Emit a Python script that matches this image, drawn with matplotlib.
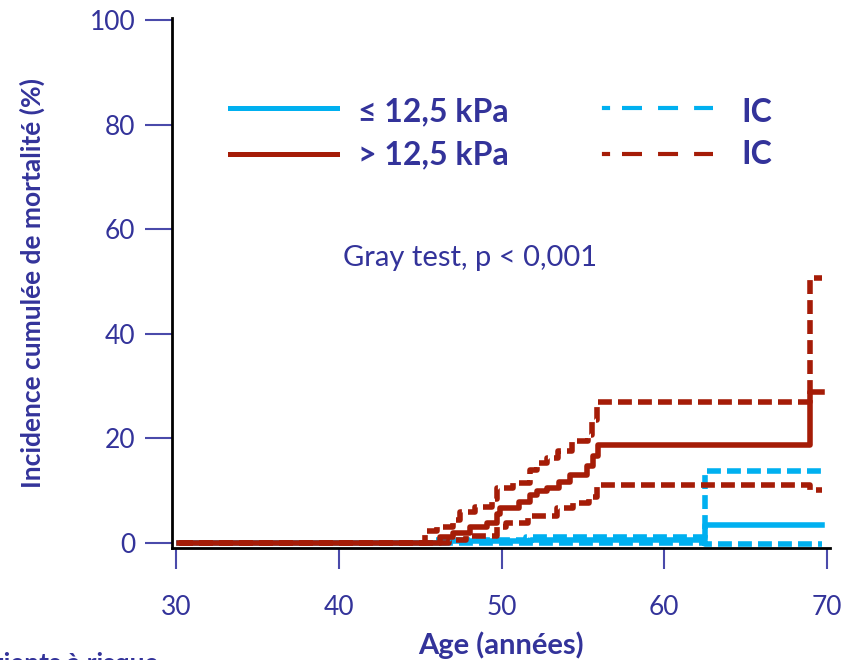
import matplotlib
matplotlib.use("Agg")
import matplotlib.pyplot as plt
from matplotlib.lines import Line2D

plt.rcParams['font.family'] = ['Lato', 'DejaVu Sans']

# ---- data ----
red_t = [30.2, 46.2, 47.0, 48.06, 49.1, 49.7, 49.9, 51.1, 51.75, 52.2, 52.8, 53.5, 54.2, 55.25, 55.6, 55.9, 68.96, 69.67]
red_v = [0.0, 1.1, 1.9, 3.1, 3.8, 5.5, 6.7, 7.9, 9.2, 10.0, 10.5, 11.7, 13.0, 14.7, 16.6, 18.7, 28.9, 28.9]

red_up_t = [30.2, 45.3, 46.04, 47.0, 47.45, 48.37, 49.4, 49.72, 50.7, 51.75, 52.18, 52.8, 53.47, 54.33, 55.3, 55.56, 55.87, 68.96, 69.67]
red_up_v = [0.0, 2.3, 3.0, 4.4, 6.0, 6.9, 8.5, 10.5, 11.5, 14.0, 15.3, 16.2, 17.6, 19.5, 20.6, 23.5, 27.0, 50.6, 50.6]

red_lo_t = [30.2, 46.8, 47.8, 49.7, 50.3, 51.6, 53.4, 54.4, 55.4, 55.85, 56.1, 68.96, 69.67]
red_lo_v = [0.0, 0.5, 1.3, 3.0, 3.8, 5.1, 6.7, 7.6, 8.8, 10.7, 11.1, 10.2, 10.2]

blue_t = [30.2, 46.5, 51.8, 62.5, 69.67]
blue_v = [0.0, 0.3, 0.6, 3.4, 3.4]

blue_up_t = [30.2, 46.0, 51.5, 62.5, 69.67]
blue_up_v = [0.0, 0.5, 1.1, 13.8, 13.8]

blue_lo_t = [30.2, 62.5, 69.67]
blue_lo_v = [0.0, -0.2, -0.2]

x_ticks = [30, 40, 50, 60, 70]
y_ticks = [0, 20, 40, 60, 80, 100]

RED = '#A51C07'
BLUE = '#00B0F0'
TXT = '#33339A'
TICK = '#4A4AAA'

W, H = 843, 660
fig = plt.figure(figsize=(W / 100, H / 100), dpi=100)
ax = fig.add_axes([172 / W, 1 - 548 / H, 658 / W, 530 / H])

lw = 4.0
dash = (0, (2.5, 1.1))

ax.plot(blue_lo_t, blue_lo_v, drawstyle='steps-post', color=BLUE, lw=lw, ls=dash)
ax.plot(blue_up_t, blue_up_v, drawstyle='steps-post', color=BLUE, lw=lw, ls=dash)
ax.plot(blue_t, blue_v, drawstyle='steps-post', color=BLUE, lw=lw)
ax.plot(red_lo_t, red_lo_v, drawstyle='steps-post', color=RED, lw=lw, ls=dash)
ax.plot(red_up_t, red_up_v, drawstyle='steps-post', color=RED, lw=lw, ls=dash)
ax.plot(red_t, red_v, drawstyle='steps-post', color=RED, lw=lw)

ax.set_xlim(29.754, 70.18)
ax.set_ylim(-0.96, 100.38)

for s in ['top', 'right']:
    ax.spines[s].set_visible(False)
for s in ['left', 'bottom']:
    ax.spines[s].set_color('black')
    ax.spines[s].set_linewidth(2)

ax.set_xticks(x_ticks)
ax.set_yticks(y_ticks)
ax.tick_params(axis='y', direction='out', length=19.5, width=1.5, color=TICK,
               labelcolor=TXT, labelsize=19, pad=7)
ax.tick_params(axis='x', direction='out', length=15, width=1.5, color=TICK,
               labelcolor=TXT, labelsize=19, pad=19)

ax.set_ylabel('Incidence cumulée de mortalité (%)', fontsize=19, fontweight='bold', color=TXT)
ax.yaxis.set_label_coords(-0.193, 0.5)

fig.text(501 / W, 1 - 645 / H, 'Age (années)', ha='center', va='center',
         fontsize=21, fontweight='bold', color=TXT)
fig.text(470 / W, 1 - 258 / H, 'Gray test, p < 0,001', ha='center', va='center',
         fontsize=21, color=TXT)
fig.text(-36 / W, 1 - 652 / H, 'Patients à risque', ha='left', va='top',
         fontsize=19, fontweight='bold', color=TXT)

# legend drawn manually
rows = [(108, 112, BLUE, '≤ 12,5 kPa'), (154, 155, RED, '> 12,5 kPa')]
for yl, yt, c, lab in rows:
    fy = 1 - yl / H
    fig.add_artist(Line2D([230 / W, 337 / W], [fy, fy], color=c, lw=3.6))
    fig.add_artist(Line2D([604 / W, 607.5 / W], [fy, fy], color=c, lw=3.0))
    fig.add_artist(Line2D([622 / W, 713 / W], [fy, fy], color=c, lw=3.0,
                          ls=(0, (4.8, 3.85))))
    fig.text(358 / W, 1 - yt / H, lab, ha='left', va='center',
             fontsize=23, fontweight='bold', color=TXT)
    fig.text(741 / W, 1 - yt / H, 'IC', ha='left', va='center',
             fontsize=23, fontweight='bold', color=TXT)

fig.savefig('out.png', dpi=100)
